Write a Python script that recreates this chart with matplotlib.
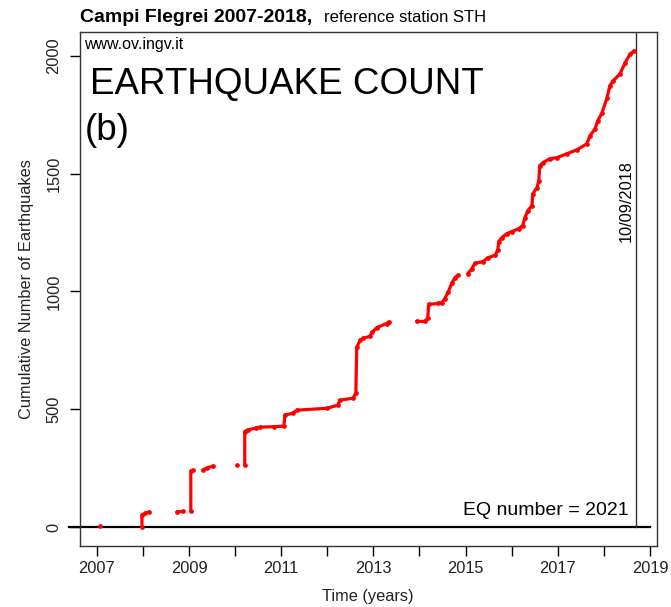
import numpy as np
import matplotlib
matplotlib.use("Agg")
import matplotlib.pyplot as plt

plt.rcParams['font.family'] = ['Liberation Sans', 'DejaVu Sans']

# cumulative earthquake count (decimal year, count); None = no events in between
t_years = [2007.08, None,
           2007.98, 2007.98, 2008.05, 2008.14, None,
           2008.74, 2008.86, None,
           2009.04, 2009.04, 2009.08, None,
           2009.30, 2009.40, 2009.52, None,
           2010.04, None,
           2010.21, 2010.21, 2010.27, 2010.45, 2010.55, 2010.85, 2011.06, 2011.08,
           2011.25, 2011.34, 2011.99, 2012.23, 2012.27, 2012.56, 2012.62, 2012.64,
           2012.71, 2012.77, 2012.92, 2012.97, 2013.08, 2013.29, 2013.33, None,
           2013.94, 2014.12, 2014.18, 2014.20, 2014.40, 2014.49, 2014.55, 2014.62,
           2014.70, 2014.77, 2014.83, None,
           2015.05, 2015.14, 2015.20, 2015.38, 2015.49, 2015.64, 2015.70, 2015.72,
           2015.79, 2015.90, 2016.00, 2016.16, 2016.24, 2016.29, 2016.35, 2016.44,
           2016.46, 2016.55, 2016.59, 2016.61, 2016.68, 2016.83, 2016.98, 2017.20,
           2017.42, 2017.63, 2017.70, 2017.81, 2017.87, 2017.96, 2018.07, 2018.13,
           2018.20, 2018.35, 2018.46, 2018.57, 2018.65]
n_cum = [3, None,
         2, 50, 58, 64, None,
         64, 66, None,
         68, 237, 240, None,
         242, 252, 258, None,
         262, None,
         264, 405, 412, 420, 424, 426, 428, 475,
         483, 496, 504, 517, 538, 547, 568, 763,
         792, 801, 809, 826, 847, 864, 870, None,
         873, 873, 886, 945, 949, 953, 970, 996,
         1034, 1059, 1068, None,
         1076, 1097, 1119, 1127, 1144, 1153, 1178, 1212,
         1229, 1246, 1254, 1267, 1280, 1314, 1343, 1364,
         1415, 1441, 1470, 1534, 1547, 1564, 1568, 1585,
         1602, 1627, 1661, 1691, 1725, 1758, 1822, 1873,
         1894, 1924, 1970, 2008, 2021]

year_ticks = list(range(2007, 2020))
year_labels = [str(y) if y % 2 == 1 else '' for y in year_ticks]
count_ticks = [0, 500, 1000, 1500, 2000]
last_date = 2018.69
last_date_label = "10/09/2018"
eq_total = 2021

t = np.array([np.nan if v is None else v for v in t_years])
n = np.array([np.nan if v is None else v for v in n_cum])

fig = plt.figure(figsize=(6.71, 6.07), dpi=100)
ax = fig.add_axes([80/671, 61/607, 577/671, 514/607])

ax.plot(t, n, color='red', lw=2.3, solid_capstyle='round', zorder=3)
ax.plot(t, n, 'o', color='red', ms=2.4, zorder=3)

ax.set_xlim(2006.636, 2019.154)
ax.set_ylim(-80.8, 2101.8)

# zero line and date marker
ax.plot([2006.39, 2019.0], [0, 0], color='black', lw=1.6, clip_on=False, zorder=2)
ax.plot([last_date, last_date], [0, 2101.8], color='#333333', lw=1.0)

ax.set_xticks(year_ticks)
ax.set_xticklabels(year_labels)
ax.set_yticks(count_ticks)
ax.set_yticklabels([str(c) for c in count_ticks], rotation=90, va='center')
ax.tick_params(axis='both', direction='out', length=7.5, width=1, labelsize=11.8,
               labelcolor='#222222')
ax.tick_params(axis='x', pad=3)
ax.tick_params(axis='y', pad=6)
for s in ax.spines.values():
    s.set_linewidth(1)
    s.set_color('#333333')

fig.text(27/671, 1 - 289/607, "Cumulative Number of Earthquakes", rotation=90,
         ha='center', va='center', fontsize=11.8, color='#222222')
fig.text((80 + 288)/671, 1 - 597/607, "Time (years)", ha='center', va='center',
         fontsize=11.8, color='#222222')

fig.text(80/671, 1 - 18/607, "Campi Flegrei 2007-2018,", fontsize=14, weight='bold',
         ha='left', va='center')
fig.text(324/671, 1 - 18/607, "reference station STH", fontsize=12, ha='left', va='center')

ax.text(0.007, 0.975, "www.ov.ingv.it", transform=ax.transAxes, fontsize=11.5, va='center')
ax.text(0.018, 0.897, "EARTHQUAKE COUNT", transform=ax.transAxes, fontsize=26.5, va='center')
ax.text(0.008, 0.809, "(b)", transform=ax.transAxes, fontsize=26.5, va='center')
ax.text(0.951, 0.070, "EQ number = %d" % eq_total, transform=ax.transAxes, fontsize=14,
        ha='right', va='center')
ax.text(last_date - 0.03, 1386, last_date_label, rotation=90, fontsize=11.8,
        ha='right', va='center')

fig.savefig("out.png", dpi=100)
